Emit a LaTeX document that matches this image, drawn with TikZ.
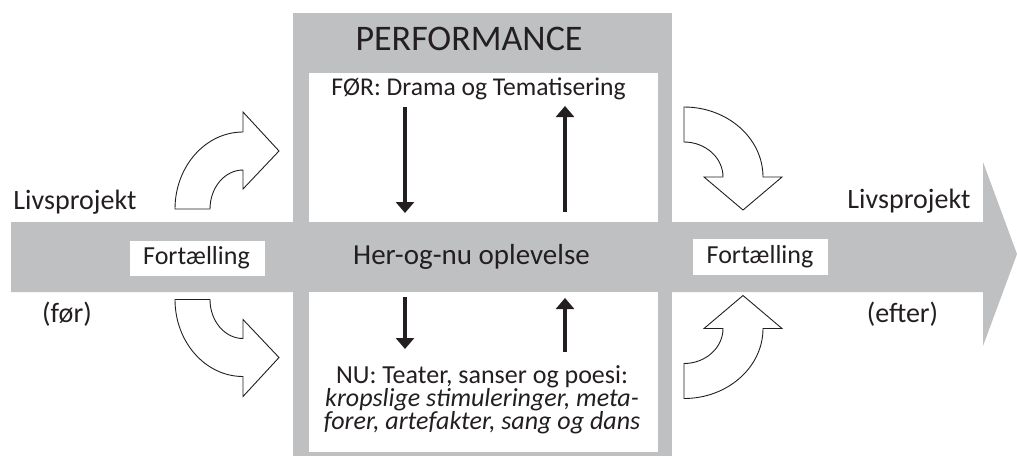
\documentclass[tikz,border=0pt]{standalone}
\usepackage{fontspec}
\setmainfont{Carlito}
\usetikzlibrary{arrows.meta}
\definecolor{bandgray}{RGB}{191,192,194}
\definecolor{ink}{RGB}{35,31,32}
\tikzset{
  curvedarrow/.style={draw=ink, fill=white, line width=0.9pt, line join=miter},
  thickarrow/.style={draw=ink, line width=4.5pt, -{Triangle[width=18pt,length=11pt]}},
  whitebox/.style={fill=white, inner sep=0pt},
  lbl/.style={text=ink, inner sep=0pt, anchor=base},
}
\begin{document}
\begin{tikzpicture}[x=1pt,y=-1pt]
\useasboundingbox (0,0) rectangle (1017,456);
% main band with arrow head
\fill[bandgray] (11,222) -- (983,222) -- (983,162) -- (1017,254) -- (983,346) -- (983,292) -- (11,292) -- cycle;
% central column
\fill[bandgray] (293,13) rectangle (672,456);
\fill[white] (309,73) rectangle (658,222);
\fill[white] (309,292) rectangle (658,452);

% texts in column
\node[lbl] (perf) at (469,50) {\fontsize{36}{40}\selectfont PERFORMANCE};
\node[lbl] (foer) at (478.5,95) {\fontsize{25.6}{30}\selectfont FØR: Drama og Tematisering};
\node[lbl] (her) at (471.5,264) {\fontsize{29}{34}\selectfont Her-og-nu oplevelse};
\node[text=ink, inner sep=0pt, anchor=base, align=center, font=\fontsize{26}{23}\selectfont] (nu) at (482,429)
  {NU: Teater, sanser og poesi:\\{\itshape kropslige stimuleringer, meta-}\\{\itshape forer, artefakter, sang og dans}};

% Fortaelling boxes
\node[whitebox, minimum width=135pt, minimum height=35pt] (fl) at (197.5,258.5) {};
\node[lbl] (flt) at (196.5,264) {\fontsize{26}{30}\selectfont Fortælling};
\node[whitebox, minimum width=135pt, minimum height=36pt] (fr) at (760.5,257) {};
\node[lbl] (frt) at (760,263) {\fontsize{26}{30}\selectfont Fortælling};

% side labels
\node[lbl] (livl) at (75,209) {\fontsize{28}{32}\selectfont Livsprojekt};
\node[lbl] (foerl) at (67,322) {\fontsize{28}{32}\selectfont (før)};
\node[lbl] (livr) at (909,208) {\fontsize{28}{32}\selectfont Livsprojekt};
\node[lbl] (efter) at (902.5,322) {\fontsize{28}{32}\selectfont (efter)};

% vertical arrows
\coordinate (a1s) at (405,107); \coordinate (a1e) at (405,213);
\coordinate (a2s) at (565,212); \coordinate (a2e) at (565,106);
\coordinate (a3s) at (405,297); \coordinate (a3e) at (405,349);
\coordinate (a4s) at (565,352); \coordinate (a4e) at (565,298);
\draw[thickarrow] (a1s) -- (a1e);
\draw[thickarrow] (a2s) -- (a2e);
\draw[thickarrow] (a3s) -- (a3e);
\draw[thickarrow] (a4s) -- (a4e);

% curved block arrows
% top-left
\draw[curvedarrow] (175,209) -- (210,209) .. controls (210,187.5) and (224.8,170) .. (243,170)
  -- (243,189) -- (279,151) -- (243,112) -- (243,132)
  .. controls (205.4,132) and (175,166.5) .. (175,209) -- cycle;
% bottom-left
\draw[curvedarrow] (175,299.5) -- (210,299.5) .. controls (210,321) and (224.8,338.5) .. (243,338.5)
  -- (243,319.5) -- (279,357.5) -- (243,396.5) -- (243,376.5)
  .. controls (205.4,376.5) and (175,342) .. (175,299.5) -- cycle;
% top-right
\draw[curvedarrow] (684,107) -- (684,142) .. controls (705.5,142) and (723,157.7) .. (723,177)
  -- (704,177) -- (743,210) -- (782,177) -- (763,177)
  .. controls (763,138.3) and (727.6,107) .. (684,107) -- cycle;
% bottom-right
\draw[curvedarrow] (684,398.5) -- (684,363.5) .. controls (705.5,363.5) and (723,347.8) .. (723,328.5)
  -- (704,328.5) -- (743,295.5) -- (782,328.5) -- (763,328.5)
  .. controls (763,367.2) and (727.6,398.5) .. (684,398.5) -- cycle;
\end{tikzpicture}
\end{document}
